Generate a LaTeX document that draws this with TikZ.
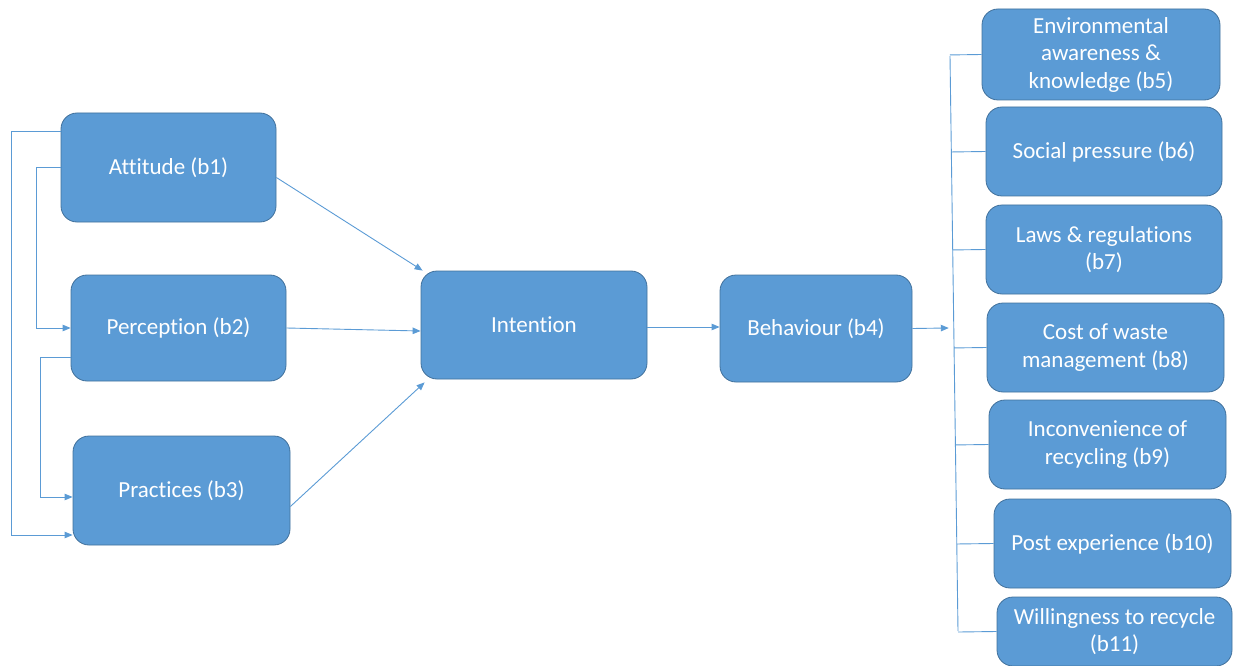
\documentclass[tikz,border=0pt]{standalone}
\usepackage{fontspec}
\setmainfont{Carlito}[Ligatures=NoCommon]
\usetikzlibrary{arrows.meta,calc}
\definecolor{boxfill}{HTML}{5B9BD5}
\definecolor{boxline}{HTML}{41719C}

\begin{document}
\begin{tikzpicture}[x=1pt,y=-1pt,
	factor/.style={draw=boxline, line width=0.8pt, fill=boxfill, rounded corners=16pt,
		text=white, align=center, inner sep=0pt,
		font=\fontsize{23}{27.5}\selectfont},
	link/.style={draw=boxfill, line width=0.9pt},
	arr/.style={link, -{Triangle[length=8pt,width=6.5pt]}}]
	\useasboundingbox (0,0) rectangle (1235,666);
	\node [factor, minimum width=215pt, minimum height=109pt] (att) at (168.5,167.5) {Attitude (b1)};
	\node [factor, minimum width=215pt, minimum height=106pt] (per) at (178.5,328) {Perception (b2)};
	\node [factor, minimum width=217pt, minimum height=109pt] (pra) at (181.5,490.5) {Practices (b3)};
	\node [factor, minimum width=226pt, minimum height=108pt] (int) at (534,325) {Intention};
	\node [factor, minimum width=192pt, minimum height=107pt] (beh) at (816,328.5) {Behaviour (b4)};
	\draw [arr] ([yshift=36.5pt]att.west) -- ++(-49,0) |- ([yshift=-44.5pt]pra.west);
	\draw [arr] (att.west) -- ++(-24,0) |- (per.west);
	\draw [arr] ([yshift=-29pt]per.west) -- ++(-30,0) |- ([yshift=-6.5pt]pra.west);
	\draw [arr] ([yshift=-10pt]att.east) -- ([xshift=2pt]int.north west);
	\draw [arr] (per.east) -- ([yshift=-6pt]int.west);
	\draw [arr] ([yshift=-16pt]pra.east) -- ([xshift=4pt,yshift=-3pt]int.south west);
	\draw [arr] ([yshift=-2pt]int.east) -- ([yshift=-2pt]int.east -| beh.west);
	\coordinate (top) at (950,56);
	\coordinate (bot) at (958,631);
	\draw [link] (top) -- (bot);
	\foreach \n/\x/\y/\w/\h/\t in {
		5/1101/54.5/238/91/{Environmental\\awareness \&\\knowledge (b5)},
		6/1104/151.5/236/89/{Social pressure (b6)},
		7/1104/249.5/236/89/{Laws \& regulations\\(b7)},
		8/1105.5/347.5/237/89/{Cost of waste\\management (b8)},
		9/1107.5/444.5/237/89/{Inconvenience of\\recycling (b9)},
		10/1112.5/543.5/237/89/{Post experience (b10)},
		11/1114.5/631.5/235/69/{Willingness to recycle\\(b11)}}
	{
		\node [factor, minimum width=\w pt, minimum height=\h pt] (b\n) at (\x,\y) {\t};
		\draw [link] (b\n.west) -- ($(top)!(b\n.west)!(bot)$);
	}
	\draw [arr, shorten >=5pt] (beh.east) -- ($(top)!(beh.east)!(bot)$);
\end{tikzpicture}
\end{document}
